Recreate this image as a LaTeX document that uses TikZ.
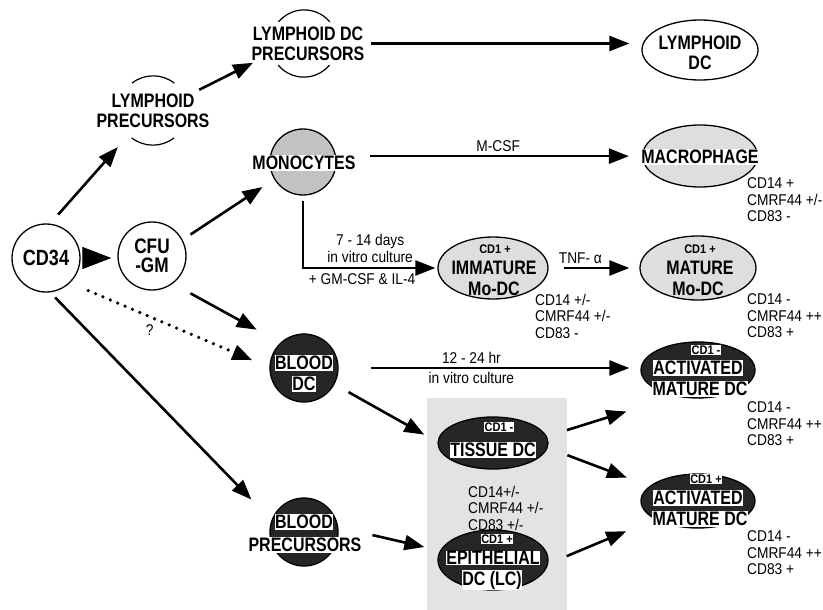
\documentclass[tikz,border=0pt]{standalone}
\usepackage{fontspec}
\setmainfont{Liberation Sans}[FakeStretch=0.88]
\newfontfamily\lblfont{Liberation Sans}[FakeStretch=0.82]
\usetikzlibrary{arrows.meta,shapes.geometric}
\tikzset{
  cellc/.style={circle, draw, line width=1.3pt, minimum size=#1, inner sep=0pt},
  ovalc/.style 2 args={ellipse, draw, line width=1.3pt, minimum width=#1, minimum height=#2, inner sep=0pt},
  ghost/.style={circle, minimum size=#1, inner sep=0pt},
  arcln/.style={line width=1.2pt},
  dark/.style={fill=black!85},
  lbl/.style={font=\lblfont\fontsize{19.5}{20}\selectfont\bfseries, align=center, inner sep=0.6pt},
  tinylbl/.style={font=\fontsize{12.5}{14}\selectfont\bfseries, inner sep=0.6pt},
  wbox/.style={fill=white},
  markers/.style={font=\fontsize{15.6}{16.5}\selectfont, align=left, anchor=west, inner sep=0pt},
  elab/.style={font=\fontsize{15.6}{17.5}\selectfont, align=center, inner sep=1pt},
  arr/.style={-{Triangle[length=20pt,width=15pt]}, line width=2.6pt},
  dotarr/.style={arr, dash pattern=on 0pt off 8pt, line cap=round, line width=3.6pt},
}
\begin{document}
\begin{tikzpicture}[x=1pt, y=1pt]
  \useasboundingbox (0,0) rectangle (823,-610);
  % stippled tissue zone
  \fill[black!11] (427,-398) rectangle (567,-610);
  % Progenitors
  \node[cellc=68pt, lbl, font=\lblfont\fontsize{22}{22}\selectfont\bfseries] (cd34) at (46,-258) {CD34};
  \node[cellc=68pt, lbl, font=\lblfont\fontsize{21}{19.5}\selectfont\bfseries] (cfu) at (152,-256) {CFU\\-GM};
  % Lymphoid branch
  \node[ghost=69pt] (lp) at (153,-110.5) {};
  \draw[arcln] (lp.52) arc[start angle=52, end angle=128, radius=34.5pt];
  \draw[arcln] (lp.232) arc[start angle=232, end angle=308, radius=34.5pt];
  \node[lbl] (lp-t) at (153,-111) {LYMPHOID\\PRECURSORS};
  \node[ghost=67pt] (ldp) at (304,-43.5) {};
  \draw[arcln] (ldp.40) arc[start angle=40, end angle=140, radius=33.5pt];
  \draw[arcln] (ldp.220) arc[start angle=220, end angle=320, radius=33.5pt];
  \node[lbl] (ldp-t) at (308,-44) {LYMPHOID DC\\PRECURSORS};
  \node[ovalc={116pt}{60pt}] (lymdc) at (700,-50) {};
  \node[lbl] (lymdc-t) at (700,-53) {LYMPHOID\\DC};
  % Monocyte branch
  \node[cellc=66pt, fill=black!24] (mono) at (303,-162) {};
  \node[lbl, wbox] (mono-t) at (304,-163) {MONOCYTES};
  \node[ovalc={115pt}{62pt}, fill=black!13] (macro) at (700,-156) {};
  \node[lbl, wbox] (macro-t) at (700,-157) {MACROPHAGE};
  \node[markers] (macro-m) at (747,-200) {CD14 +\\CMRF44 +/-\\CD83 -};
  \node[ovalc={110pt}{62pt}, fill=black!13] (imm) at (493,-268) {};
  \node[tinylbl] (imm-c) at (495,-249) {CD1 +};
  \node[lbl] (imm-t) at (494,-268) {IMMATURE};
  \node[lbl] (imm-b) at (494,-289) {Mo-DC};
  \node[markers] (imm-m) at (535,-316) {CD14 +/-\\CMRF44 +/-\\CD83 -};
  \node[ovalc={116pt}{64pt}, fill=black!13] (mat) at (698,-268) {};
  \node[tinylbl] (mat-c) at (700,-249) {CD1 +};
  \node[lbl] (mat-t) at (700,-268) {MATURE};
  \node[lbl] (mat-b) at (698,-289) {Mo-DC};
  \node[markers] (mat-m) at (747,-316) {CD14 -\\CMRF44 ++\\CD83 +};
  % Blood and tissue DC
  \node[cellc=68pt, dark] (bdc) at (304,-368) {};
  \node[lbl, wbox] (bdc-a) at (304,-363) {BLOOD};
  \node[lbl, wbox] (bdc-b) at (304,-384) {DC};
  \node[cellc=68pt, dark] (bpre) at (304,-532) {};
  \node[lbl, wbox] (bpre-a) at (304,-522) {BLOOD};
  \node[lbl, wbox] (bpre-b) at (305,-545) {PRECURSORS};
  \node[ovalc={110pt}{52pt}, dark] (tis) at (493,-443) {};
  \node[tinylbl, wbox] (tis-c) at (499,-427) {CD1 -};
  \node[lbl, wbox] (tis-t) at (493,-450) {TISSUE DC};
  \node[markers] (tis-m) at (468,-508) {CD14+/-\\CMRF44 +/-\\CD83 +/-};
  \node[ovalc={110pt}{60pt}, dark] (epi) at (493,-560) {};
  \node[tinylbl, wbox] (epi-c) at (497,-539) {CD1 +};
  \node[lbl, wbox] (epi-t) at (493,-558) {EPITHELIAL};
  \node[lbl, wbox] (epi-b) at (492,-580) {DC (LC)};
  \node[ovalc={114pt}{56pt}, dark] (act1) at (698,-370) {};
  \node[tinylbl, wbox] (act1-c) at (706,-350) {CD1 -};
  \node[lbl, wbox] (act1-t) at (698,-368) {ACTIVATED};
  \node[lbl, wbox] (act1-b) at (700,-389) {MATURE DC};
  \node[markers] (act1-m) at (747,-424) {CD14 -\\CMRF44 ++\\CD83 +};
  \node[ovalc={114pt}{54pt}, dark] (act2) at (698,-501) {};
  \node[tinylbl, wbox] (act2-c) at (706,-479) {CD1 +};
  \node[lbl, wbox] (act2-t) at (698,-498) {ACTIVATED};
  \node[lbl, wbox] (act2-b) at (700,-519) {MATURE DC};
  \node[markers] (act2-m) at (747,-553) {CD14 -\\CMRF44 ++\\CD83 +};
  % Arrows
  \draw[-{Triangle[length=29pt,width=22pt]}, line width=1pt, shorten <=3pt, shorten >=6pt]
    (cd34.east) -- (cd34.east -| cfu.west);
  \draw[arr, shorten <=12pt, shorten >=16pt] (cd34.83) -- (lp.225);
  \draw[arr, shorten <=16pt, shorten >=21pt] (lp.23) -- (ldp.197);
  \draw[arr, shorten <=33pt, shorten >=12pt] (ldp.east) -- (ldp.east -| lymdc.west);
  \draw[arr, shorten <=9.5pt, shorten >=14pt] (cfu.28) -- (mono.211);
  \draw[arr, shorten <=34pt, shorten >=13pt] (mono.10) -- (mono.10 -| macro.west)
    node[elab, pos=.53, above=2pt] {M-CSF};
  \draw[arr, shorten <=5pt, shorten >=2pt] (mono.south) |- (imm.west)
    node[elab, pos=.75, above=3pt] {7 - 14 days\\in vitro culture}
    node[elab, pos=.72, below=3pt] {+ GM-CSF \& IL-4};
  \draw[arr, shorten <=15pt, shorten >=10pt] (imm.east) -- (imm.east -| mat.west)
    node[elab, pos=.35, above=2pt] {TNF- α};
  \draw[arr, shorten <=20pt, shorten >=27pt] (cfu.-53) -- (bdc.133);
  \draw[dotarr, shorten <=19.7pt, shorten >=18.5pt] (cd34.-46) -- (bdc.179)
    node[elab, pos=.4, below=5pt] {?};
  \draw[arr, shorten <=7pt, shorten >=28.7pt] (cd34.-83) -- (bpre.160);
  \draw[arr, shorten <=32pt, shorten >=11pt] (bdc.east) -- (bdc.east -| act1.west)
    node[elab, pos=.44, above=2pt] {12 - 24 hr}
    node[elab, pos=.44, below=2pt] {in vitro culture};
  \draw[arr, shorten <=16pt, shorten >=15pt] (bdc.-28) -- (tis.179);
  \draw[arr, shorten <=35pt, shorten >=16pt] (bpre.8) -- (epi.170);
  \draw[arr, shorten <=21pt, shorten >=51pt] (tis.7) -- (act1.229);
  \draw[arr, shorten <=21pt, shorten >=24pt] (tis.-5) -- (act2.163);
  \draw[arr, shorten <=20pt, shorten >=31pt] (epi.-4) -- (act2.203);
\end{tikzpicture}
\end{document}
